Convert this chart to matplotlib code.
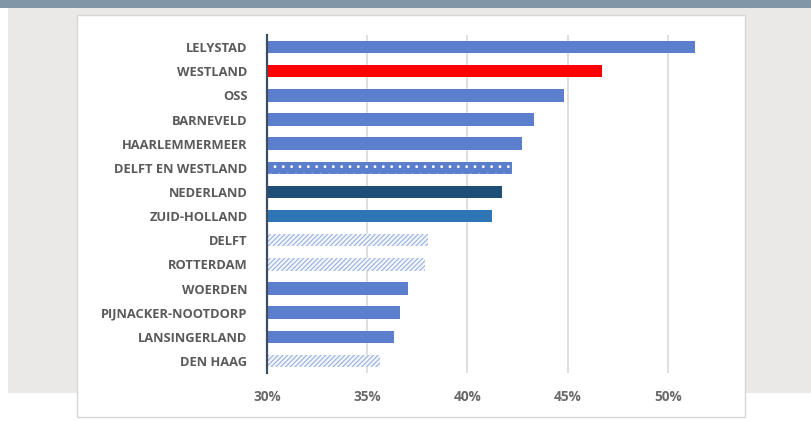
import matplotlib.pyplot as plt
from matplotlib.patches import Rectangle

# data, top to bottom as shown
places = ["LELYSTAD", "WESTLAND", "OSS", "BARNEVELD", "HAARLEMMERMEER",
          "DELFT EN WESTLAND", "NEDERLAND", "ZUID-HOLLAND", "DELFT", "ROTTERDAM",
          "WOERDEN", "PIJNACKER-NOOTDORP", "LANSINGERLAND", "DEN HAAG"]
values = [51.35, 46.7, 44.8, 43.3, 42.7, 42.2, 41.7, 41.2, 38.05, 37.9,
          37.05, 36.65, 36.35, 35.65]
kinds = ["gem", "focus", "gem", "gem", "gem", "regio", "nl", "prov", "stad", "stad",
         "gem", "gem", "gem", "stad"]
xticks = [30, 35, 40, 45, 50]
xtick_labels = ["30%", "35%", "40%", "45%", "50%"]

styles = {
    "gem":   dict(color="#5b7fcc"),
    "focus": dict(color="#ff0000"),
    "nl":    dict(color="#1f4e79"),
    "prov":  dict(color="#2e75b6"),
    "regio": dict(facecolor="#5b7fcc", edgecolor="white", hatch="..", linewidth=0),
    "stad":  dict(facecolor="#f3f6fc", edgecolor="#98b1e0", hatch="///////", linewidth=0),
}

plt.rcParams["hatch.linewidth"] = 0.8

fig = plt.figure(figsize=(8.11, 4.21), dpi=100)
fig.patch.set_facecolor("white")

W, H = 811, 421
def px_rect(x0, y0, x1, y1, **kw):
    fig.patches.append(Rectangle((x0 / W, 1 - y1 / H), (x1 - x0) / W, (y1 - y0) / H,
                                 transform=fig.transFigure, zorder=-10, **kw))

# slide background
px_rect(0, 0, 811, 421, facecolor="white", linewidth=0)
px_rect(8, 8, 811, 393, facecolor="#ebe9e7", linewidth=0)
px_rect(0, 0, 811, 8, facecolor="#8196a6", linewidth=0)
px_rect(77, 15, 745, 417, facecolor="white", edgecolor="#d6d6d6", linewidth=1)

ax = fig.add_axes([267 / W, 1 - 373 / H, (708 - 267) / W, (373 - 35) / H])
ax.set_facecolor("none")

ypos = list(range(len(places)))
for y, v, k in zip(ypos, values, kinds):
    ax.barh(y, v - 30, left=30, height=0.52, zorder=3, **styles[k])

ax.set_xlim(30, 52)
ax.set_ylim(len(places) - 0.5, -0.5)
ax.set_xticks(xticks)
ax.set_xticklabels(xtick_labels)
ax.set_yticks(ypos)
ax.set_yticklabels(places)
ax.xaxis.grid(True, color="#d9d9d9", linewidth=1.2)
ax.set_axisbelow(True)

for s in ["top", "right", "bottom"]:
    ax.spines[s].set_visible(False)
ax.spines["left"].set_color("#3f4d5e")
ax.spines["left"].set_linewidth(1.6)
ax.spines["left"].set_zorder(5)

ax.tick_params(axis="y", length=0, pad=14, labelsize=9.3, labelcolor="#5a5a5a")
ax.tick_params(axis="x", length=0, pad=12, labelsize=9.8, labelcolor="#6a6a6a")
for lbl in ax.get_yticklabels() + ax.get_xticklabels():
    lbl.set_fontweight("bold")
    lbl.set_family("Open Sans")

fig.savefig("out.png", dpi=100)
